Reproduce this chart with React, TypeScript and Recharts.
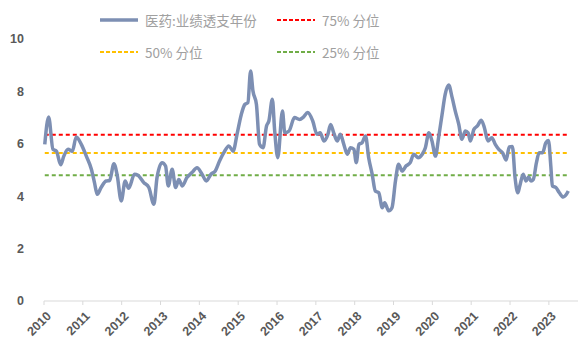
import React from 'react';
import { LineChart, Line, XAxis, YAxis } from 'recharts';

const dates = [
  2010.02, 2010.12, 2010.23, 2010.32, 2010.43, 2010.51, 2010.62, 2010.73, 2010.83, 2010.96,
  2011.09, 2011.22, 2011.30, 2011.37, 2011.47, 2011.60, 2011.69, 2011.80, 2011.88, 2011.99,
  2012.09, 2012.18, 2012.33, 2012.42, 2012.57, 2012.70, 2012.83, 2012.91,
  2013.04, 2013.13, 2013.20, 2013.30, 2013.39, 2013.47, 2013.56, 2013.68, 2013.81, 2013.94,
  2014.07, 2014.18, 2014.30, 2014.41, 2014.52, 2014.63, 2014.76, 2014.87, 2014.97,
  2015.08, 2015.17, 2015.25, 2015.32, 2015.38, 2015.47, 2015.55, 2015.64, 2015.73, 2015.79, 2015.88, 2015.94,
  2016.02, 2016.14, 2016.20, 2016.31, 2016.45, 2016.58, 2016.68, 2016.79, 2016.92,
  2017.03, 2017.11, 2017.21, 2017.31, 2017.38, 2017.46, 2017.55, 2017.63, 2017.72, 2017.81, 2017.89, 2017.98,
  2018.04, 2018.11, 2018.19, 2018.28, 2018.36, 2018.45, 2018.53, 2018.62, 2018.71, 2018.77, 2018.88, 2018.96,
  2019.05, 2019.13, 2019.22, 2019.32, 2019.43, 2019.52, 2019.63, 2019.74, 2019.82, 2019.91, 2019.99,
  2020.08, 2020.16, 2020.25, 2020.33, 2020.42, 2020.51, 2020.59, 2020.68, 2020.76, 2020.85, 2020.92, 2020.98,
  2021.07, 2021.16, 2021.26, 2021.34, 2021.43, 2021.53, 2021.62, 2021.71, 2021.81, 2021.90, 2021.98,
  2022.06, 2022.13, 2022.20, 2022.25, 2022.34, 2022.41, 2022.48, 2022.54, 2022.60, 2022.68, 2022.75, 2022.84, 2022.92, 2022.99,
  2023.05, 2023.09, 2023.18, 2023.27, 2023.37, 2023.43, 2023.50,
];

const values = [
  5.98, 7.02, 5.79, 5.72, 5.2, 5.53, 5.79, 5.72, 6.26, 5.98,
  5.53, 5.03, 4.52, 4.07, 4.33, 4.58, 4.6, 5.24, 4.84, 3.82,
  4.58, 4.3, 4.84, 4.8, 4.52, 4.33, 3.69, 4.71,
  5.28, 5.15, 4.39, 5.03, 4.33, 4.64, 4.39, 4.71, 4.9, 5.09,
  4.84, 4.58, 4.84, 4.96, 5.34, 5.66, 5.92, 5.72, 6.36,
  7.12, 7.5, 7.57, 8.78, 8.02, 7.5, 5.98, 5.85, 6.68, 6.87, 7.7, 6.49,
  5.47, 7.25, 6.42, 6.49, 7.0, 6.93, 7.02, 7.19, 6.87,
  6.36, 6.42, 6.11, 6.36, 6.74, 6.42, 6.11, 6.36, 5.98, 5.6, 5.85, 5.79,
  5.28, 5.98, 6.04, 6.3, 5.47, 4.84, 4.2, 4.13, 3.56, 3.75, 3.44, 3.56,
  4.58, 5.22, 4.96, 5.15, 5.28, 5.6, 5.47, 5.6, 5.85, 6.42, 6.11,
  5.53, 6.23, 7.12, 7.89, 8.24, 7.76, 7.25, 6.74, 6.17, 6.49, 6.42, 6.11,
  6.55, 6.68, 6.9, 6.61, 6.11, 6.23, 5.98, 5.79, 5.65, 5.38, 5.88,
  5.9, 4.7, 4.13, 4.39, 4.84, 4.58, 4.73, 4.58, 4.64, 5.28, 5.66, 5.66, 6.04, 6.13,
  5.15, 4.39, 4.33, 4.13, 3.97, 4.03, 4.2,
];

const pct75 = 6.35;
const pct50 = 5.65;
const pct25 = 4.8;

const yearTicks = [2010, 2011, 2012, 2013, 2014, 2015, 2016, 2017, 2018, 2019, 2020, 2021, 2022, 2023];
const yTicks = [0, 2, 4, 6, 8, 10];

const seriesNames = ['医药:业绩透支年份', '75% 分位', '50% 分位', '25% 分位'];
const colors = ['#7d8fb3', '#ff0000', '#ffc000', '#70ad47'];

const data = dates.map((t, i) => ({ t, v: values[i], p75: pct75, p50: pct50, p25: pct25 }));

const tickFont = "'Liberation Sans', 'DejaVu Sans', sans-serif";
const cjkFont = "'Noto Sans CJK SC', 'Noto Sans', sans-serif";

const XTick = (props: any) => {
  const { x, y, payload } = props;
  const tx = x + 5;
  const ty = y + 7;
  return (
    <text
      x={tx}
      y={ty}
      transform={`rotate(-45 ${tx} ${ty})`}
      textAnchor="end"
      dominantBaseline="central"
      fill="#595959"
      fontSize={12.5}
      fontWeight="bold"
      fontFamily={tickFont}
    >
      {payload.value}
    </text>
  );
};

const LegendItem = ({ color, dashed, label, left, top }: any) => (
  <div style={{ position: 'absolute', left, top, display: 'flex', alignItems: 'center', height: 20 }}>
    <svg width={40} height={6} style={{ display: 'block' }}>
      <line
        x1={1}
        y1={3}
        x2={39}
        y2={3}
        stroke={color}
        strokeWidth={dashed ? 2 : 3.5}
        strokeDasharray={dashed ? '4 2' : undefined}
      />
    </svg>
    <span style={{ marginLeft: 6, fontFamily: cjkFont, fontSize: 13.5, color: '#a0a0a0', whiteSpace: 'nowrap' }}>
      {label}
    </span>
  </div>
);

export default function App() {
  return (
    <div style={{ position: 'absolute', left: 0, top: 0, width: 582, height: 354, background: '#fff' }}>
      <LineChart
        width={582}
        height={354}
        data={data}
        margin={{ top: 39, right: 4, bottom: 13, left: 14 }}
      >
        <XAxis
          type="number"
          dataKey="t"
          domain={[2010, 2023.75]}
          ticks={yearTicks}
          interval={0}
          axisLine={{ stroke: '#d9d9d9' }}
          tickLine={{ stroke: '#d9d9d9' }}
          tickSize={4}
          height={40}
          tick={<XTick />}
        />
        <YAxis
          type="number"
          domain={[0, 10]}
          ticks={yTicks}
          axisLine={false}
          tickLine={false}
          tickSize={0}
          tickMargin={20}
          width={30}
          tick={{ fill: '#595959', fontSize: 12.5, fontWeight: 'bold', fontFamily: tickFont }}
        />
        <Line dataKey="p75" name={seriesNames[1]} stroke={colors[1]} strokeWidth={2} strokeDasharray="4 3" dot={false} isAnimationActive={false} />
        <Line dataKey="p50" name={seriesNames[2]} stroke={colors[2]} strokeWidth={2} strokeDasharray="4 3" dot={false} isAnimationActive={false} />
        <Line dataKey="p25" name={seriesNames[3]} stroke={colors[3]} strokeWidth={2} strokeDasharray="4 3" dot={false} isAnimationActive={false} />
        <Line type="monotone" dataKey="v" name={seriesNames[0]} stroke={colors[0]} strokeWidth={3.5} dot={false} isAnimationActive={false} />
      </LineChart>
      <LegendItem color={colors[0]} label={seriesNames[0]} left={99} top={10} />
      <LegendItem color={colors[1]} dashed label={seriesNames[1]} left={276} top={10} />
      <LegendItem color={colors[2]} dashed label={seriesNames[2]} left={99} top={42} />
      <LegendItem color={colors[3]} dashed label={seriesNames[3]} left={276} top={42} />
    </div>
  );
}
